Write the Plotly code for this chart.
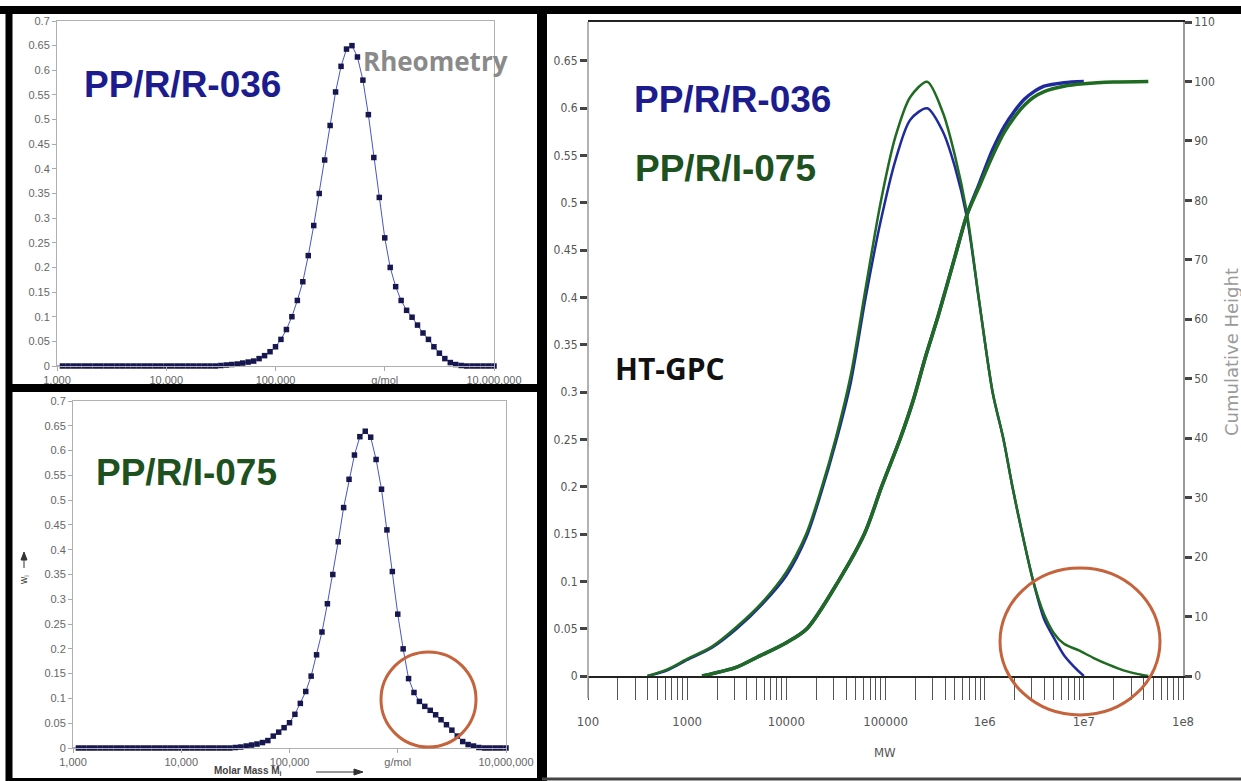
import plotly.graph_objects as go

W, H = 1241, 781


def px(x):
    return x / W


def py(y):
    return 1 - y / H


# ---------------- Rheometry panels: molar-mass grid (log10 g/mol) ----------------
logM_grid = [3.00, 3.05, 3.10, 3.15, 3.20, 3.25, 3.30, 3.35, 3.40, 3.45,
             3.50, 3.55, 3.60, 3.65, 3.70, 3.75, 3.80, 3.85, 3.90, 3.95,
             4.00, 4.05, 4.10, 4.15, 4.20, 4.25, 4.30, 4.35, 4.40, 4.45,
             4.50, 4.55, 4.60, 4.65, 4.70, 4.75, 4.80, 4.85, 4.90, 4.95,
             5.00, 5.05, 5.10, 5.15, 5.20, 5.25, 5.30, 5.35, 5.40, 5.45,
             5.50, 5.55, 5.60, 5.65, 5.70, 5.75, 5.80, 5.85, 5.90, 5.95,
             6.00, 6.05, 6.10, 6.15, 6.20, 6.25, 6.30, 6.35, 6.40, 6.45,
             6.50, 6.55, 6.60, 6.65, 6.70, 6.75, 6.80, 6.85, 6.90, 6.95,
             7.00]

# PP/R/R-036 (Rheometry, top-left)
w_rheo_R036 = [0, 0, 0, 0, 0, 0, 0, 0, 0, 0,
               0, 0, 0, 0, 0, 0, 0, 0, 0, 0,
               0, 0, 0, 0, 0, 0, 0, 0, 0, 0,
               0.001, 0.002, 0.003, 0.004, 0.006, 0.008, 0.010, 0.015, 0.021, 0.029,
               0.039, 0.054, 0.074, 0.100, 0.133, 0.171, 0.224, 0.285, 0.350, 0.418,
               0.488, 0.556, 0.608, 0.643, 0.650, 0.627, 0.580, 0.510, 0.423, 0.342,
               0.260, 0.200, 0.161, 0.133, 0.113, 0.099, 0.083, 0.067, 0.054, 0.039,
               0.026, 0.015, 0.007, 0.003, 0.001, 0, 0, 0, 0, 0,
               0]

# PP/R/I-075 (Rheometry, bottom-left)
w_rheo_I075 = [0, 0, 0, 0, 0, 0, 0, 0, 0, 0,
               0, 0, 0, 0, 0, 0, 0, 0, 0, 0,
               0, 0, 0, 0, 0, 0, 0, 0, 0, 0,
               0.001, 0.002, 0.004, 0.006, 0.008, 0.011, 0.015, 0.024, 0.032, 0.041,
               0.051, 0.068, 0.090, 0.114, 0.145, 0.188, 0.234, 0.291, 0.350, 0.416,
               0.485, 0.542, 0.591, 0.628, 0.639, 0.627, 0.582, 0.522, 0.440, 0.356,
               0.270, 0.200, 0.140, 0.112, 0.094, 0.084, 0.076, 0.067, 0.057, 0.047,
               0.036, 0.024, 0.013, 0.007, 0.004, 0.001, 0, 0, 0, 0,
               0]

rheo_xticks = [1e3, 1e4, 1e5, 1e6, 1e7]
rheo_xlabels = ["1,000", "10,000", "100,000", "g/mol", "10,000,000"]

# ---------------- HT-GPC panel ----------------
gpc_logM_diff_R036 = [2.60, 2.80, 3.00, 3.25, 3.50, 3.75, 4.00, 4.20, 4.35, 4.50,
                      4.65, 4.80, 4.95, 5.10, 5.25, 5.42, 5.58, 5.70, 5.82, 5.95,
                      6.08, 6.19, 6.28, 6.38, 6.49, 6.60, 6.70, 6.80, 6.90, 7.00]
gpc_w_R036 = [0.000, 0.006, 0.017, 0.030, 0.050, 0.075, 0.106, 0.146, 0.193, 0.247,
              0.310, 0.400, 0.480, 0.545, 0.588, 0.600, 0.575, 0.538, 0.485, 0.392,
              0.300, 0.250, 0.200, 0.150, 0.100, 0.060, 0.040, 0.022, 0.010, 0.000]

gpc_logM_diff_I075 = [2.60, 2.80, 3.00, 3.25, 3.50, 3.75, 4.00, 4.20, 4.35, 4.50,
                      4.65, 4.80, 4.95, 5.10, 5.25, 5.42, 5.58, 5.70, 5.82, 5.95,
                      6.08, 6.19, 6.28, 6.38, 6.49, 6.60, 6.70, 6.80, 6.95, 7.10,
                      7.25, 7.40, 7.55, 7.65]
gpc_w_I075 = [0.000, 0.007, 0.018, 0.031, 0.052, 0.077, 0.110, 0.150, 0.197, 0.252,
              0.318, 0.410, 0.500, 0.570, 0.612, 0.628, 0.595, 0.550, 0.490, 0.392,
              0.300, 0.250, 0.200, 0.150, 0.100, 0.065, 0.045, 0.034, 0.027, 0.019,
              0.012, 0.006, 0.002, 0.000]

gpc_logM_cum_R036 = [3.15, 3.50, 3.71, 4.00, 4.21, 4.52, 4.79, 4.96, 5.15, 5.28,
                     5.40, 5.53, 5.70, 5.82, 5.95, 6.08, 6.20, 6.30, 6.40, 6.49,
                     6.60, 6.80, 7.00]
gpc_cum_R036 = [0.0, 1.5, 3.2, 5.6, 8.0, 15.8, 24.0, 31.8, 40.0, 46.4,
                53.5, 60.5, 70.5, 77.5, 83.0, 88.5, 92.5, 95.0, 97.0, 98.2,
                99.2, 99.8, 100.0]

gpc_logM_cum_I075 = [3.15, 3.50, 3.71, 4.00, 4.21, 4.52, 4.79, 4.96, 5.15, 5.28,
                     5.40, 5.53, 5.70, 5.82, 5.95, 6.08, 6.20, 6.30, 6.40, 6.49,
                     6.60, 6.80, 7.00, 7.30, 7.65]
gpc_cum_I075 = [0.0, 1.5, 3.2, 5.6, 8.0, 15.8, 24.0, 31.8, 40.0, 46.4,
                53.5, 60.5, 70.5, 77.5, 82.5, 87.5, 91.5, 94.0, 96.0, 97.3,
                98.3, 99.2, 99.6, 99.9, 100.0]

gpc_decade_labels = ["100", "1000", "10000", "100000", "1e6", "1e7", "1e8"]

# ---------------- styling ----------------
NAVY = "#1c1c8e"
DKGREEN = "#1d5220"
BLUE = "#1f2a9e"
GREEN = "#1f6b22"
NARROW = "Liberation Sans Narrow, DejaVu Sans Condensed, Arial Narrow, sans-serif"
ARIAL = "Liberation Sans, Arial, sans-serif"
ORANGE = "#c4633c"

fig = go.Figure()

for w, xa, ya in [(w_rheo_R036, "x", "y"), (w_rheo_I075, "x2", "y2")]:
    fig.add_trace(go.Scatter(
        x=[10 ** v for v in logM_grid], y=w, mode="lines+markers",
        line=dict(color="#4a55c4", width=1),
        marker=dict(symbol="square", size=5.5, color="#17174f"),
        xaxis=xa, yaxis=ya, cliponaxis=False, showlegend=False, hoverinfo="skip"))

# HT-GPC differential curves
fig.add_trace(go.Scatter(x=[10 ** v for v in gpc_logM_diff_R036], y=gpc_w_R036, mode="lines",
                         line=dict(color=BLUE, width=2.5, shape="spline", smoothing=0.8),
                         xaxis="x3", yaxis="y3", showlegend=False, hoverinfo="skip"))
fig.add_trace(go.Scatter(x=[10 ** v for v in gpc_logM_diff_I075], y=gpc_w_I075, mode="lines",
                         line=dict(color=GREEN, width=2.5, shape="spline", smoothing=0.8),
                         xaxis="x3", yaxis="y3", showlegend=False, hoverinfo="skip"))
# HT-GPC cumulative curves
fig.add_trace(go.Scatter(x=[10 ** v for v in gpc_logM_cum_R036], y=gpc_cum_R036, mode="lines",
                         line=dict(color=BLUE, width=3.5, shape="spline", smoothing=0.8),
                         xaxis="x3", yaxis="y4", showlegend=False, hoverinfo="skip"))
fig.add_trace(go.Scatter(x=[10 ** v for v in gpc_logM_cum_I075], y=gpc_cum_I075, mode="lines",
                         line=dict(color=GREEN, width=3.5, shape="spline", smoothing=0.8),
                         xaxis="x3", yaxis="y4", showlegend=False, hoverinfo="skip"))

gpc_tickvals, gpc_ticktext = [], []
for d in range(2, 8):
    for k in range(1, 10):
        gpc_tickvals.append(k * 10 ** d)
        gpc_ticktext.append(gpc_decade_labels[d - 2] if k == 1 else "")
gpc_tickvals.append(1e8)
gpc_ticktext.append(gpc_decade_labels[-1])

rheo_x = dict(type="log", range=[3, 7], tickvals=rheo_xticks, ticktext=rheo_xlabels,
              showline=True, linecolor="#b0b0b0", mirror=True, ticks="outside", ticklen=4,
              tickcolor="#aaa", tickfont=dict(family=ARIAL, size=11, color="#666"),
              showgrid=False, zeroline=False, automargin=False, tickangle=0)
rheo_y = dict(range=[0, 0.7], dtick=0.05, tick0=0, showline=True, linecolor="#b0b0b0",
              mirror=True, ticks="outside", ticklen=4, tickcolor="#aaa",
              tickfont=dict(family=ARIAL, size=11, color="#666"), showgrid=False, zeroline=False,
              automargin=False)

fig.update_layout(
    width=W, height=H, autosize=False,
    margin=dict(l=0, r=0, t=0, b=0, pad=0),
    paper_bgcolor="white", plot_bgcolor="white",
    xaxis=dict(rheo_x, domain=[px(57), px(494)], anchor="y"),
    yaxis=dict(rheo_y, domain=[py(366), py(21)], anchor="x"),
    xaxis2=dict(rheo_x, domain=[px(73), px(506)], anchor="y2"),
    yaxis2=dict(rheo_y, domain=[py(748), py(401)], anchor="x2"),
    xaxis3=dict(type="log", range=[2, 8], domain=[px(588), px(1183)], anchor="y3",
                tickvals=gpc_tickvals, ticktext=gpc_ticktext, ticks="outside", ticklen=22,
                tickwidth=1.2, tickcolor="#555", showline=True, linecolor="#222", linewidth=2,
                mirror=True, tickfont=dict(family=NARROW, size=13, color="#555"), tickangle=0,
                ticklabelstandoff=10, showgrid=False, zeroline=False, automargin=False),
    yaxis3=dict(range=[0, 0.6912], domain=[py(676), py(22)], anchor="x3", dtick=0.05, tick0=0,
                ticks="outside", ticklen=7, tickwidth=2.5, tickcolor="#444", showline=False,
                tickfont=dict(family=NARROW, size=12, color="#555"), showgrid=False, zeroline=False,
                automargin=False),
    yaxis4=dict(range=[0, 110], overlaying="y3", side="right", anchor="x3", dtick=10, tick0=0,
                ticks="outside", ticklen=7, tickwidth=2.5, tickcolor="#444", showline=True,
                linecolor="#999", linewidth=1.5, automargin=False,
                tickfont=dict(family=NARROW, size=12, color="#555"), showgrid=False, zeroline=False),
)


def hline(y, x0, x1, w, c="black"):
    return dict(type="line", xref="paper", yref="paper", x0=px(x0), x1=px(x1), y0=py(y), y1=py(y),
                line=dict(color=c, width=w), layer="above")


def vline(x, y0, y1, w, c="black"):
    return dict(type="line", xref="paper", yref="paper", x0=px(x), x1=px(x), y0=py(y0), y1=py(y1),
                line=dict(color=c, width=w), layer="above")


def tri(points, c):
    path = "M " + " L ".join(f"{px(a):.5f} {py(b):.5f}" for a, b in points) + " Z"
    return dict(type="path", xref="paper", yref="paper", path=path, fillcolor=c,
                line=dict(color=c, width=1), layer="above")


shapes = []
# left axis line of GPC panel (extends below zero down to tick ends)
shapes.append(vline(588, 22, 698, 1.5, "#999"))
# orange circles
shapes.append(dict(type="circle", xref="paper", yref="paper", x0=px(381), x1=px(476),
                   y0=py(747), y1=py(652), line=dict(color=ORANGE, width=3), layer="above"))
shapes.append(dict(type="circle", xref="paper", yref="paper", x0=px(1000), x1=px(1160),
                   y0=py(715), y1=py(568), line=dict(color=ORANGE, width=3), layer="above"))
# arrows next to axis titles of the lower rheometry panel
shapes.append(hline(772, 316, 356, 1, "#333"))
shapes.append(tri([(363, 772), (354, 769), (354, 775)], "#333"))
shapes.append(vline(24, 568, 558, 1, "#333"))
shapes.append(tri([(24, 552), (21, 560), (27, 560)], "#333"))
# black panel frames
shapes += [
    hline(10, 0, 1241, 8),
    vline(9, 6, 781, 7),
    hline(388, 6, 542, 8),
    hline(780, 6, 542, 4),
    vline(542, 6, 781, 10),
    hline(779, 542, 1241, 3, "#444"),
]
fig.update_layout(shapes=shapes)

ann = []
ann.append(dict(text="PP/R/R-036", x=px(82), y=py(85), xanchor="left", yanchor="middle",
                font=dict(family=ARIAL, size=37, color=NAVY, weight="bold")))
ann.append(dict(text="Rheometry", x=px(361), y=py(61), xanchor="left", yanchor="middle",
                font=dict(family="Open Sans, sans-serif", size=26, color="#8a8a8a", weight="bold")))
ann.append(dict(text="PP/R/I-075", x=px(94), y=py(472), xanchor="left", yanchor="middle",
                font=dict(family=ARIAL, size=37, color=DKGREEN, weight="bold")))
ann.append(dict(text="PP/R/R-036", x=px(632), y=py(100), xanchor="left", yanchor="middle",
                font=dict(family=ARIAL, size=37, color=NAVY, weight="bold")))
ann.append(dict(text="PP/R/I-075", x=px(633), y=py(168), xanchor="left", yanchor="middle",
                font=dict(family=ARIAL, size=37, color=DKGREEN, weight="bold")))
ann.append(dict(text="HT-GPC", x=px(613), y=py(368), xanchor="left", yanchor="middle",
                font=dict(family="Open Sans, sans-serif", size=30, color="#111", weight="bold")))
ann.append(dict(text="MW", x=px(885), y=py(752), xanchor="center", yanchor="middle",
                font=dict(family=NARROW, size=13, color="#555")))
ann.append(dict(text="Cumulative Height", x=px(1231), y=py(352), xanchor="center", yanchor="middle",
                textangle=-90, font=dict(family="DejaVu Sans, sans-serif", size=18, color="#9a9a9a")))
ann.append(dict(text="Molar Mass M<sub>i</sub>", x=px(248), y=py(771), xanchor="center", yanchor="middle",
                font=dict(family=ARIAL, size=10, color="#444", weight="bold")))
ann.append(dict(text="w<sub>i</sub>", x=px(24), y=py(580), xanchor="center", yanchor="middle",
                textangle=-90, font=dict(family=ARIAL, size=10, color="#333")))
for a in ann:
    a.setdefault("xref", "paper")
    a.setdefault("yref", "paper")
    a.setdefault("showarrow", False)
fig.update_layout(annotations=ann)

post = (
    "document.documentElement.style.margin='0';"
    "document.body.style.margin='0';document.body.style.padding='0';"
    "document.body.style.overflow='hidden';"
    "var gd=document.getElementById('{plot_id}');"
    "var vw=window.innerWidth||1241, vh=window.innerHeight||781;"
    "if(vw>200&&vh>200&&(vw!==1241||vh!==781)){Plotly.relayout(gd,{width:vw,height:vh});}"
)

fig.write_html("out.html", config={"displayModeBar": False}, post_script=post)
